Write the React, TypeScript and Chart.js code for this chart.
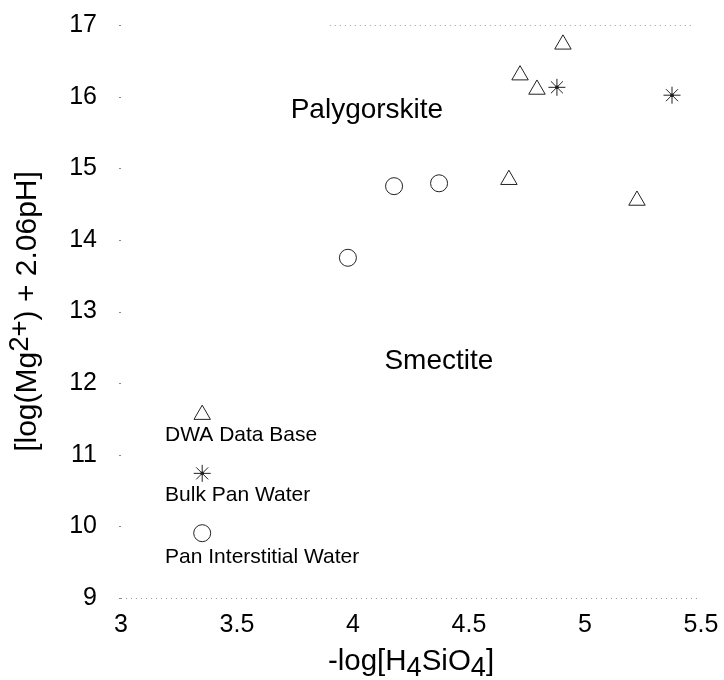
import React, { useEffect, useRef } from "react";
import { Chart, registerables } from "chart.js";

Chart.register(...registerables);

// -log[H4SiO4] (x) and [log(Mg2+) + 2.06pH] (y) for each water type
const dwaX = [4.905, 4.72, 4.793, 4.672, 5.224];
const dwaY = [16.73, 16.3, 16.1, 14.84, 14.55];
const bulkX = [4.879, 5.375];
const bulkY = [16.13, 16.02];
const panX = [4.177, 4.371, 3.978];
const panY = [14.75, 14.79, 13.75];

// In-plot key: marker positions and captions
const keyX = 3.35;
const keyY = [11.56, 10.74, 9.905];
const keyLabels = ["DWA Data Base", "Bulk Pan Water", "Pan Interstitial Water"];
const keyLabelX = 3.19;
const keyLabelY = [11.27, 10.44, 9.57];

// Stability-field names
const fieldLabels = ["Palygorskite", "Smectite"];
const fieldX = [4.06, 4.37];
const fieldY = [15.81, 12.31];

const xTicks = [3, 3.5, 4, 4.5, 5, 5.5];
const yTicks = [9, 10, 11, 12, 13, 14, 15, 16, 17];

const FONT = "'Liberation Sans', Arial, sans-serif";
const INK = "#222";

type Seg = { t: string; dy: number; scale: number };

function drawRich(ctx: CanvasRenderingContext2D, segs: Seg[], size: number) {
  let total = 0;
  for (const s of segs) {
    ctx.font = `${size * s.scale}px ${FONT}`;
    total += ctx.measureText(s.t).width;
  }
  let x = -total / 2;
  ctx.textBaseline = "middle";
  ctx.textAlign = "left";
  for (const s of segs) {
    ctx.font = `${size * s.scale}px ${FONT}`;
    ctx.fillText(s.t, x, s.dy);
    x += ctx.measureText(s.t).width;
  }
}

const decorations = {
  id: "decorations",
  afterDatasetsDraw(chart: any) {
    const { ctx, chartArea } = chart;
    const xs = chart.scales.x;
    const ys = chart.scales.y;
    ctx.save();

    // faint dotted frame lines at top and bottom
    ctx.strokeStyle = "#9a9a9a";
    ctx.lineWidth = 1;
    ctx.setLineDash([1, 4]);
    ctx.beginPath();
    ctx.moveTo(chartArea.left, Math.round(chartArea.bottom) + 0.5);
    ctx.lineTo(chartArea.right, Math.round(chartArea.bottom) + 0.5);
    ctx.moveTo(xs.getPixelForValue(3.9), Math.round(chartArea.top) + 0.5);
    ctx.lineTo(chartArea.right - 8, Math.round(chartArea.top) + 0.5);
    ctx.stroke();
    ctx.setLineDash([]);

    // small y tick marks
    ctx.strokeStyle = "#888";
    for (const v of yTicks) {
      const py = Math.round(ys.getPixelForValue(v)) + 0.5;
      ctx.beginPath();
      ctx.moveTo(chartArea.left - 2, py);
      ctx.lineTo(chartArea.left, py);
      ctx.stroke();
    }

    ctx.fillStyle = "#000";

    // field names
    ctx.font = `28px ${FONT}`;
    ctx.textAlign = "center";
    ctx.textBaseline = "middle";
    fieldLabels.forEach((t, i) => {
      ctx.fillText(t, xs.getPixelForValue(fieldX[i]), ys.getPixelForValue(fieldY[i]));
    });

    // key captions
    ctx.font = `21px ${FONT}`;
    ctx.textAlign = "left";
    keyLabels.forEach((t, i) => {
      ctx.fillText(t, xs.getPixelForValue(keyLabelX), ys.getPixelForValue(keyLabelY[i]));
    });

    // x axis title
    ctx.save();
    ctx.translate((chartArea.left + chartArea.right) / 2, 662);
    drawRich(
      ctx,
      [
        { t: "-log[H", dy: 0, scale: 1 },
        { t: "4", dy: 7, scale: 0.92 },
        { t: "SiO", dy: 0, scale: 1 },
        { t: "4", dy: 7, scale: 0.92 },
        { t: "]", dy: 0, scale: 1 },
      ],
      29.5
    );
    ctx.restore();

    // y axis title
    ctx.save();
    ctx.translate(28, (chartArea.top + chartArea.bottom) / 2);
    ctx.rotate(-Math.PI / 2);
    drawRich(
      ctx,
      [
        { t: "[log(Mg", dy: 0, scale: 1 },
        { t: "2+", dy: -8, scale: 0.92 },
        { t: ") + 2.06pH]", dy: 0, scale: 1 },
      ],
      30
    );
    ctx.restore();

    ctx.restore();
  },
};

const pts = (xs: number[], ys: number[]) => xs.map((x, i) => ({ x, y: ys[i] }));

export default function App() {
  const ref = useRef<HTMLCanvasElement | null>(null);

  useEffect(() => {
    if (!ref.current) return;
    const base = {
      borderColor: INK,
      backgroundColor: "rgba(0,0,0,0)",
      borderWidth: 1,
      showLine: false,
    };
    const chart = new Chart(ref.current, {
      type: "scatter",
      data: {
        datasets: [
          { ...base, label: "DWA Data Base", data: pts(dwaX, dwaY), pointStyle: "triangle", pointRadius: 9.5 },
          { ...base, label: "Bulk Pan Water", data: pts(bulkX, bulkY), pointStyle: "star", pointRadius: 8.5 },
          { ...base, label: "Bulk Pan Water centre", data: pts(bulkX, bulkY), pointStyle: "circle", pointRadius: 1.8, backgroundColor: "#000", borderWidth: 0 },
          { ...base, label: "Pan Interstitial Water", data: pts(panX, panY), pointStyle: "circle", pointRadius: 8.5 },
          { ...base, label: "key DWA", data: [{ x: keyX, y: keyY[0] }], pointStyle: "triangle", pointRadius: 9.5 },
          { ...base, label: "key Bulk", data: [{ x: keyX, y: keyY[1] }], pointStyle: "star", pointRadius: 8.5 },
          { ...base, label: "key Bulk centre", data: [{ x: keyX, y: keyY[1] }], pointStyle: "circle", pointRadius: 1.8, backgroundColor: "#000", borderWidth: 0 },
          { ...base, label: "key Pan", data: [{ x: keyX, y: keyY[2] }], pointStyle: "circle", pointRadius: 8.5 },
        ],
      },
      options: {
        responsive: false,
        animation: false,
        devicePixelRatio: 1,
        layout: { padding: { left: 8, right: 23, top: 25, bottom: 0 } },
        plugins: { legend: { display: false }, tooltip: { enabled: false } },
        scales: {
          x: {
            type: "linear",
            min: 3,
            max: 5.5,
            afterBuildTicks: (s: any) => {
              s.ticks = xTicks.map((v) => ({ value: v }));
            },
            afterFit: (s: any) => {
              s.height = 82;
              s.paddingLeft = 0;
              s.paddingRight = 0;
            },
            grid: { display: false, drawTicks: false },
            border: { display: false },
            ticks: {
              color: "#000",
              font: { family: FONT, size: 25 },
              padding: 12,
              maxRotation: 0,
              autoSkip: false,
              callback: (v: any) => String(Number(v)),
            },
          },
          y: {
            type: "linear",
            min: 9,
            max: 17,
            afterBuildTicks: (s: any) => {
              s.ticks = yTicks.map((v) => ({ value: v }));
            },
            afterFit: (s: any) => {
              s.width = 113;
              s.paddingTop = 0;
              s.paddingBottom = 0;
            },
            grid: { display: false, drawTicks: false },
            border: { display: false },
            ticks: { color: "#000", font: { family: FONT, size: 25 }, padding: 24, autoSkip: false },
          },
        },
      },
      plugins: [decorations],
    });
    return () => chart.destroy();
  }, []);

  return (
    <div style={{ position: "fixed", left: 0, top: 0, width: 724, height: 680, background: "#fff" }}>
      <canvas ref={ref} width={724} height={680} style={{ width: 724, height: 680, display: "block" }} />
    </div>
  );
}
